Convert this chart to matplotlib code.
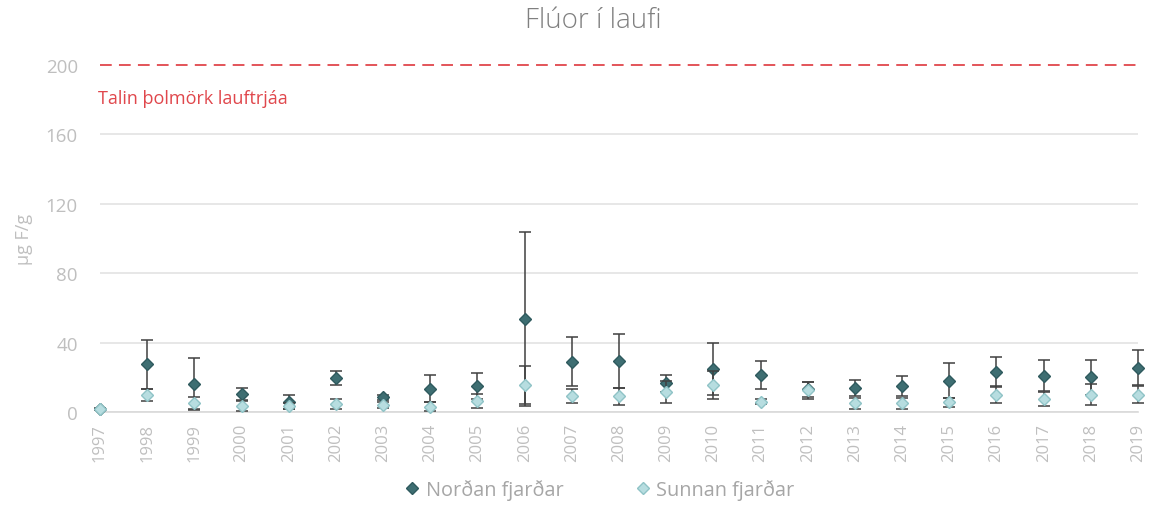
import numpy as np
import matplotlib.pyplot as plt
from matplotlib.lines import Line2D

years = list(range(1997, 2020))
nordan = [2, 27.5, 16, 10.5, 6, 19.5, 8.5, 13.5, 15, 53.5, 29, 29.5, 16.5, 25, 21.5,
          13, 14, 15, 18, 23, 21, 20, 25.5]
nordan_err = [0.5, 14, 15, 3.5, 4, 4, 1.5, 8, 7.5, 50, 14, 15.5, 5, 15, 8,
              4.5, 4.5, 5.5, 10, 8.5, 9, 10, 10]
sunnan = [1.5, 10, 5, 3.5, 3.5, 4.5, 4, 3, 6.5, 15.5, 9, 9, 11.5, 15.5, 6,
          12.5, 5, 5, 5.5, 10, 7.5, 10, 10]
sunnan_err = [0.5, 3.5, 3.5, 3, 1.5, 3, 1.5, 2.5, 4, 11, 4, 5, 6.5, 8, 1.5,
              5, 3, 3, 2.5, 5, 4, 6, 5]
limit = 200
y_ticks = [0, 40, 80, 120, 160, 200]

plt.rcParams['font.family'] = ['Open Sans', 'DejaVu Sans']
grey = '#bfbfbf'
dark = '#3e6e72'
light = '#b7dde0'

fig = plt.figure(figsize=(11.54, 5.06), dpi=100)
ax = fig.add_axes([100 / 1154, 1 - 413 / 506, 1038 / 1154, 347 / 506])

x = np.arange(len(years))
ax.errorbar(x, nordan, yerr=nordan_err, fmt='D', color=dark, mec='#2f5a5e',
            ms=6.2, ecolor='#404040', elinewidth=1.1, capsize=4.3, capthick=1.1,
            zorder=3, clip_on=False)
ax.errorbar(x, sunnan, yerr=sunnan_err, fmt='D', color=light, mec='#8fc3c6',
            ms=6.2, ecolor='#404040', elinewidth=1.1, capsize=4.3, capthick=1.1,
            zorder=4, clip_on=False)

# threshold line
ax.axhline(limit, color='#e0474c', lw=1.3, dashes=(6.5, 4), zorder=2, clip_on=False)
ax.text(-0.05, 181, 'Talin þolmörk lauftrjáa', color='#e0474c', fontsize=13,
        va='center', ha='left')

ax.set_xlim(0, len(years) - 1)
ax.set_ylim(0, 200)
ax.set_yticks(y_ticks)
ax.set_xticks(x)
ax.set_xticklabels([str(y) for y in years], rotation=90)
ax.tick_params(axis='both', colors=grey, length=0)
ax.tick_params(axis='y', pad=16, labelsize=13.5)
ax.tick_params(axis='x', pad=8, labelsize=12)
for t in ax.get_xticklabels() + ax.get_yticklabels():
    t.set_color(grey)
ax.grid(axis='y', color='#e3e3e3', lw=1.2, zorder=0)
for g in ax.get_ygridlines()[-1:]:
    g.set_visible(False)
for s in ['top', 'right', 'left']:
    ax.spines[s].set_visible(False)
ax.spines['bottom'].set_color('#d9d9d9')
ax.spines['bottom'].set_linewidth(1.2)

ax.set_ylabel('µg F/g', color=grey, fontsize=13)
ax.yaxis.set_label_coords(-0.0645, 0.5)
fig.text(0.514, 0.958, 'Flúor í laufi', ha='center', va='center', color='#808080',
         fontsize=20, fontweight='light')

handles = [Line2D([0], [0], marker='D', color='none', markerfacecolor=dark,
                  markeredgecolor='#2f5a5e', markersize=6, label='Norðan fjarðar'),
           Line2D([0], [0], marker='D', color='none', markerfacecolor=light,
                  markeredgecolor='#8fc3c6', markersize=6, label='Sunnan fjarðar')]
leg = fig.legend(handles=handles, loc='center', bbox_to_anchor=(0.52, 0.03),
                 ncol=2, frameon=False, fontsize=14.3, handlelength=0.7,
                 handletextpad=0.35, columnspacing=3.6)
for t in leg.get_texts():
    t.set_color('#a6a6a6')

fig.savefig('out.png', dpi=100)
